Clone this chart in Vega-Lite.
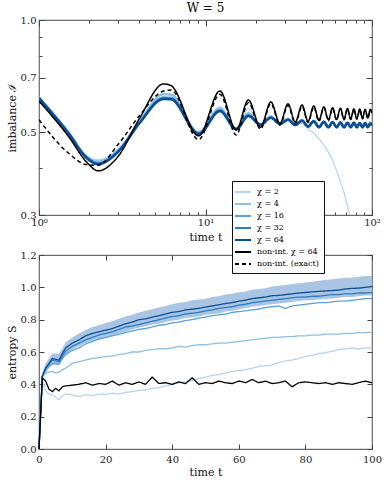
{
"$schema": "https://vega.github.io/schema/vega-lite/v6.json",
"padding": {"left": 5, "top": 1, "right": 5, "bottom": 3},
"spacing": 40,
"bounds": "flush",
"config": {
 "font": "DejaVu Serif",
 "view": {"stroke": "#6b6b6b", "strokeWidth": 1.2},
 "axis": {"domain": false, "grid": false, "labelFont": "DejaVu Serif", "labelFontSize": 10, "labelColor": "#222", "titleFont": "DejaVu Serif", "titleFontSize": 11, "titleFontWeight": "normal", "titleColor": "#111", "tickColor": "#444", "tickWidth": 1, "labelFlush": false, "labelOverlap": false}
},
"resolve": {"scale": {"color": "independent", "strokeDash": "independent", "strokeWidth": "independent"}, "legend": {"color": "independent", "strokeDash": "independent"}},
"vconcat": [
{
 "width": 333, "height": 195,
 "title": {"text": "W = 5", "font": "DejaVu Serif", "fontSize": 12, "fontWeight": "normal", "offset": 0},
 "data": {"values": [
  {"t":1,"c2":0.622,"c4":0.620,"c16":0.619,"c32":0.618,"c64":0.617,"ni":0.606,"ex":0.540},
  {"t":1.5,"c2":0.503,"c4":0.501,"c16":0.499,"c32":0.498,"c64":0.497,"ni":0.488,"ex":0.440},
  {"t":1.95,"c2":0.432,"c4":0.429,"c16":0.427,"c32":0.426,"c64":0.425,"ni":0.414,"ex":0.409},
  {"t":2.26,"c2":0.422,"c4":0.418,"c16":0.413,"c32":0.412,"c64":0.411,"ni":0.394,"ex":0.408},
  {"t":3.0,"c2":0.452,"c4":0.449,"c16":0.446,"c32":0.445,"c64":0.444,"ni":0.432,"ex":0.465},
  {"t":4.0,"c2":0.535,"c4":0.533,"c16":0.530,"c32":0.529,"c64":0.528,"ni":0.543,"ex":0.553},
  {"t":5.6,"c2":0.636,"c4":0.632,"c16":0.620,"c32":0.616,"c64":0.614,"ni":0.674,"ex":0.645},
  {"t":6.2,"c2":0.634,"c4":0.630,"c16":0.619,"c32":0.615,"c64":0.613,"ni":0.667,"ex":0.649},
  {"t":9.1,"c2":0.503,"c4":0.500,"c16":0.497,"c32":0.496,"c64":0.495,"ni":0.489,"ex":0.478},
  {"t":12.2,"c2":0.585,"c4":0.580,"c16":0.574,"c32":0.571,"c64":0.570,"ni":0.645,"ex":0.632},
  {"t":15.3,"c2":0.513,"c4":0.512,"c16":0.511,"c32":0.510,"c64":0.510,"ni":0.507,"ex":0.492},
  {"t":18.1,"c2":0.578,"c4":0.563,"c16":0.556,"c32":0.554,"c64":0.553,"ni":0.610,"ex":0.600},
  {"t":21.4,"c2":0.524,"c4":0.523,"c16":0.523,"c32":0.524,"c64":0.524,"ni":0.516,"ex":0.510},
  {"t":24.7,"c2":0.556,"c4":0.550,"c16":0.547,"c32":0.547,"c64":0.547,"ni":0.603,"ex":0.597},
  {"t":28.0,"c2":0.524,"c4":0.526,"c16":0.527,"c32":0.527,"c64":0.527,"ni":0.528,"ex":0.522},
  {"t":31.3,"c2":0.546,"c4":0.542,"c16":0.540,"c32":0.540,"c64":0.540,"ni":0.596,"ex":0.590},
  {"t":34.6,"c2":0.524,"c4":0.524,"c16":0.523,"c32":0.523,"c64":0.523,"ni":0.532,"ex":0.527},
  {"t":38.0,"c2":0.528,"c4":0.539,"c16":0.537,"c32":0.537,"c64":0.537,"ni":0.592,"ex":0.587},
  {"t":41.3,"c2":0.510,"c4":0.518,"c16":0.518,"c32":0.518,"c64":0.518,"ni":0.535,"ex":0.531},
  {"t":44.7,"c2":0.497,"c4":0.535,"c16":0.535,"c32":0.535,"c64":0.535,"ni":0.588,"ex":0.584},
  {"t":48.0,"c2":0.480,"c4":0.516,"c16":0.516,"c32":0.516,"c64":0.516,"ni":0.538,"ex":0.535},
  {"t":51.4,"c2":0.462,"c4":0.533,"c16":0.533,"c32":0.533,"c64":0.533,"ni":0.585,"ex":0.582},
  {"t":54.7,"c2":0.442,"c4":0.516,"c16":0.516,"c32":0.516,"c64":0.516,"ni":0.540,"ex":0.537},
  {"t":58.0,"c2":0.420,"c4":0.532,"c16":0.532,"c32":0.532,"c64":0.532,"ni":0.582,"ex":0.579},
  {"t":61.3,"c2":0.394,"c4":0.516,"c16":0.516,"c32":0.516,"c64":0.516,"ni":0.541,"ex":0.539},
  {"t":64.6,"c2":0.368,"c4":0.531,"c16":0.531,"c32":0.531,"c64":0.531,"ni":0.580,"ex":0.578},
  {"t":67.9,"c2":0.345,"c4":0.516,"c16":0.516,"c32":0.516,"c64":0.516,"ni":0.542,"ex":0.540},
  {"t":71.2,"c2":0.317,"c4":0.530,"c16":0.530,"c32":0.530,"c64":0.530,"ni":0.579,"ex":0.577},
  {"t":74.5,"c2":0.293,"c4":0.516,"c16":0.516,"c32":0.516,"c64":0.516,"ni":0.543,"ex":0.541},
  {"t":77.8,"c2":0.270,"c4":0.530,"c16":0.530,"c32":0.530,"c64":0.530,"ni":0.578,"ex":0.576},
  {"t":81.1,"c2":0.250,"c4":0.516,"c16":0.516,"c32":0.516,"c64":0.516,"ni":0.544,"ex":0.542},
  {"t":84.4,"c2":0.230,"c4":0.529,"c16":0.529,"c32":0.529,"c64":0.529,"ni":0.577,"ex":0.575},
  {"t":87.7,"c2":0.215,"c4":0.516,"c16":0.516,"c32":0.516,"c64":0.516,"ni":0.545,"ex":0.543},
  {"t":91.0,"c2":0.200,"c4":0.529,"c16":0.529,"c32":0.529,"c64":0.529,"ni":0.576,"ex":0.574},
  {"t":94.3,"c2":0.190,"c4":0.516,"c16":0.516,"c32":0.516,"c64":0.516,"ni":0.546,"ex":0.544},
  {"t":97.6,"c2":0.180,"c4":0.528,"c16":0.528,"c32":0.528,"c64":0.528,"ni":0.576,"ex":0.574},
  {"t":100,"c2":0.175,"c4":0.522,"c16":0.522,"c32":0.522,"c64":0.522,"ni":0.562,"ex":0.560}
 ]},
 "transform": [{"fold": ["c2","c4","c16","c32","c64","ni","ex"], "as": ["series","v"]}],
 "layer": [
  {"mark": {"type": "line", "interpolate": "monotone", "clip": true},
   "encoding": {
    "x": {"field": "t", "type": "quantitative", "scale": {"type": "log", "domain": [1, 100], "nice": false},
          "axis": {"orient": "bottom", "title": "time t", "values": [1,2,3,4,5,6,7,8,9,10,20,30,40,50,60,70,80,90,100],
                   "labelExpr": "datum.value == 1 ? '10⁰' : datum.value == 10 ? '10¹' : datum.value == 100 ? '10²' : ''",
                   "tickSize": {"condition": {"test": "datum.value == 1 || datum.value == 10 || datum.value == 100", "value": -6}, "value": -3},
                   "labelPadding": 8, "titlePadding": 1}},
    "y": {"field": "v", "type": "quantitative", "scale": {"type": "log", "domain": [0.3, 1.0], "nice": false},
          "axis": {"orient": "left", "title": "imbalance ℐ", "values": [0.3,0.4,0.5,0.6,0.7,0.8,0.9,1.0], "format": ".1f",
                   "labelExpr": "(datum.value == 0.3 || datum.value == 0.5 || datum.value == 0.7 || datum.value == 1) ? datum.label : ''",
                   "tickSize": {"condition": {"test": "datum.value == 0.3 || datum.value == 0.5 || datum.value == 0.7 || datum.value == 1", "value": -6}, "value": -3},
                   "labelPadding": 9, "titlePadding": 3}},
    "color": {"field": "series", "type": "nominal", "legend": null,
              "scale": {"domain": ["c2","c4","c16","c32","c64","ni","ex"], "range": ["#b5d4ee","#8cc0e6","#5aa2dc","#2b7bc4","#0c4f96","#000000","#000000"]}},
    "strokeDash": {"field": "series", "type": "nominal", "legend": null,
              "scale": {"domain": ["c2","c4","c16","c32","c64","ni","ex"], "range": [[1,0],[1,0],[1,0],[1,0],[1,0],[1,0],[4,3]]}},
    "strokeWidth": {"field": "series", "type": "nominal", "legend": null,
              "scale": {"type": "ordinal", "domain": ["c2","c4","c16","c32","c64","ni","ex"], "range": [1.2,2.2,2.2,2.2,2.6,1.5,1.5]}}
   }},
  {"mark": {"type": "point", "opacity": 0},
   "encoding": {
    "x": {"field": "t", "type": "quantitative", "axis": {"orient": "top", "title": null, "labels": false, "values": [1,2,3,4,5,6,7,8,9,10,20,30,40,50,60,70,80,90,100],
          "tickSize": {"condition": {"test": "datum.value == 1 || datum.value == 10 || datum.value == 100", "value": -6}, "value": -3}}},
    "y": {"field": "v", "type": "quantitative", "axis": {"orient": "right", "title": null, "labels": false, "values": [0.3,0.4,0.5,0.6,0.7,0.8,0.9,1.0],
          "tickSize": {"condition": {"test": "datum.value == 0.3 || datum.value == 0.5 || datum.value == 0.7 || datum.value == 1", "value": -6}, "value": -3}}}
   }}
 ],
 "resolve": {"axis": {"x": "independent", "y": "independent"}}
},
{
 "width": 333, "height": 194,
 "data": {"values": [
  {"t":0,"c2":0,"c4":0,"c16":0,"c32":0,"c64":0,"ni":0,"lo":0,"hi":0},
  {"t":1,"c2":0.42,"c4":0.45,"c16":0.45,"c32":0.45,"c64":0.45,"ni":0.44,"lo":0.43,"hi":0.47},
  {"t":2,"c2":0.36,"c4":0.47,"c16":0.49,"c32":0.50,"c64":0.50,"ni":0.42,"lo":0.47,"hi":0.53},
  {"t":3,"c2":0.34,"c4":0.475,"c16":0.51,"c32":0.525,"c64":0.53,"ni":0.37,"lo":0.50,"hi":0.56},
  {"t":4,"c2":0.335,"c4":0.48,"c16":0.53,"c32":0.55,"c64":0.56,"ni":0.355,"lo":0.52,"hi":0.59},
  {"t":5,"c2":0.32,"c4":0.47,"c16":0.53,"c32":0.545,"c64":0.555,"ni":0.375,"lo":0.52,"hi":0.59},
  {"t":6,"c2":0.305,"c4":0.475,"c16":0.525,"c32":0.54,"c64":0.55,"ni":0.36,"lo":0.52,"hi":0.59},
  {"t":7,"c2":0.33,"c4":0.49,"c16":0.56,"c32":0.575,"c64":0.59,"ni":0.385,"lo":0.55,"hi":0.62},
  {"t":8,"c2":0.34,"c4":0.50,"c16":0.585,"c32":0.605,"c64":0.625,"ni":0.39,"lo":0.58,"hi":0.66},
  {"t":10,"c2":0.335,"c4":0.53,"c16":0.61,"c32":0.635,"c64":0.655,"ni":0.395,"lo":0.615,"hi":0.69},
  {"t":12,"c2":0.325,"c4":0.54,"c16":0.625,"c32":0.655,"c64":0.675,"ni":0.40,"lo":0.635,"hi":0.715},
  {"t":14,"c2":0.335,"c4":0.55,"c16":0.65,"c32":0.675,"c64":0.70,"ni":0.41,"lo":0.655,"hi":0.735},
  {"t":16,"c2":0.33,"c4":0.56,"c16":0.665,"c32":0.69,"c64":0.715,"ni":0.395,"lo":0.67,"hi":0.755},
  {"t":18,"c2":0.34,"c4":0.565,"c16":0.68,"c32":0.705,"c64":0.725,"ni":0.405,"lo":0.68,"hi":0.765},
  {"t":20,"c2":0.338,"c4":0.572,"c16":0.69,"c32":0.715,"c64":0.735,"ni":0.40,"lo":0.69,"hi":0.78},
  {"t":22,"c2":0.345,"c4":0.575,"c16":0.70,"c32":0.725,"c64":0.745,"ni":0.42,"lo":0.70,"hi":0.79},
  {"t":24,"c2":0.34,"c4":0.585,"c16":0.71,"c32":0.74,"c64":0.76,"ni":0.395,"lo":0.715,"hi":0.805},
  {"t":26,"c2":0.35,"c4":0.59,"c16":0.72,"c32":0.755,"c64":0.775,"ni":0.41,"lo":0.725,"hi":0.82},
  {"t":28,"c2":0.355,"c4":0.60,"c16":0.73,"c32":0.76,"c64":0.785,"ni":0.40,"lo":0.74,"hi":0.83},
  {"t":30,"c2":0.363,"c4":0.60,"c16":0.74,"c32":0.77,"c64":0.80,"ni":0.415,"lo":0.75,"hi":0.845},
  {"t":32,"c2":0.365,"c4":0.61,"c16":0.745,"c32":0.78,"c64":0.805,"ni":0.40,"lo":0.76,"hi":0.855},
  {"t":34,"c2":0.375,"c4":0.615,"c16":0.755,"c32":0.79,"c64":0.815,"ni":0.445,"lo":0.77,"hi":0.865},
  {"t":36,"c2":0.38,"c4":0.62,"c16":0.765,"c32":0.80,"c64":0.825,"ni":0.405,"lo":0.775,"hi":0.875},
  {"t":38,"c2":0.39,"c4":0.62,"c16":0.77,"c32":0.81,"c64":0.835,"ni":0.41,"lo":0.785,"hi":0.885},
  {"t":40,"c2":0.40,"c4":0.625,"c16":0.78,"c32":0.82,"c64":0.845,"ni":0.40,"lo":0.795,"hi":0.895},
  {"t":42,"c2":0.41,"c4":0.635,"c16":0.785,"c32":0.825,"c64":0.85,"ni":0.415,"lo":0.80,"hi":0.905},
  {"t":44,"c2":0.415,"c4":0.63,"c16":0.795,"c32":0.835,"c64":0.86,"ni":0.405,"lo":0.81,"hi":0.91},
  {"t":46,"c2":0.425,"c4":0.64,"c16":0.80,"c32":0.84,"c64":0.865,"ni":0.44,"lo":0.815,"hi":0.92},
  {"t":48,"c2":0.435,"c4":0.645,"c16":0.81,"c32":0.845,"c64":0.87,"ni":0.40,"lo":0.82,"hi":0.925},
  {"t":50,"c2":0.445,"c4":0.645,"c16":0.815,"c32":0.855,"c64":0.878,"ni":0.41,"lo":0.83,"hi":0.93},
  {"t":52,"c2":0.455,"c4":0.65,"c16":0.825,"c32":0.86,"c64":0.885,"ni":0.405,"lo":0.835,"hi":0.94},
  {"t":54,"c2":0.46,"c4":0.655,"c16":0.83,"c32":0.87,"c64":0.892,"ni":0.42,"lo":0.84,"hi":0.945},
  {"t":56,"c2":0.47,"c4":0.655,"c16":0.835,"c32":0.875,"c64":0.90,"ni":0.41,"lo":0.85,"hi":0.955},
  {"t":58,"c2":0.48,"c4":0.66,"c16":0.845,"c32":0.88,"c64":0.905,"ni":0.405,"lo":0.855,"hi":0.96},
  {"t":60,"c2":0.486,"c4":0.665,"c16":0.85,"c32":0.89,"c64":0.915,"ni":0.42,"lo":0.865,"hi":0.97},
  {"t":62,"c2":0.49,"c4":0.67,"c16":0.855,"c32":0.895,"c64":0.92,"ni":0.41,"lo":0.87,"hi":0.975},
  {"t":64,"c2":0.50,"c4":0.675,"c16":0.86,"c32":0.905,"c64":0.93,"ni":0.43,"lo":0.88,"hi":0.985},
  {"t":66,"c2":0.51,"c4":0.68,"c16":0.865,"c32":0.91,"c64":0.935,"ni":0.41,"lo":0.885,"hi":0.99},
  {"t":68,"c2":0.515,"c4":0.685,"c16":0.875,"c32":0.915,"c64":0.94,"ni":0.42,"lo":0.89,"hi":0.995},
  {"t":70,"c2":0.52,"c4":0.69,"c16":0.88,"c32":0.92,"c64":0.948,"ni":0.405,"lo":0.895,"hi":1.005},
  {"t":72,"c2":0.535,"c4":0.69,"c16":0.885,"c32":0.925,"c64":0.95,"ni":0.41,"lo":0.90,"hi":1.01},
  {"t":74,"c2":0.545,"c4":0.695,"c16":0.87,"c32":0.93,"c64":0.955,"ni":0.42,"lo":0.905,"hi":1.015},
  {"t":76,"c2":0.55,"c4":0.695,"c16":0.885,"c32":0.935,"c64":0.96,"ni":0.385,"lo":0.91,"hi":1.02},
  {"t":78,"c2":0.56,"c4":0.70,"c16":0.89,"c32":0.94,"c64":0.965,"ni":0.41,"lo":0.915,"hi":1.025},
  {"t":80,"c2":0.572,"c4":0.70,"c16":0.895,"c32":0.94,"c64":0.968,"ni":0.415,"lo":0.92,"hi":1.03},
  {"t":82,"c2":0.58,"c4":0.705,"c16":0.90,"c32":0.945,"c64":0.972,"ni":0.41,"lo":0.92,"hi":1.035},
  {"t":84,"c2":0.59,"c4":0.705,"c16":0.905,"c32":0.945,"c64":0.975,"ni":0.405,"lo":0.925,"hi":1.04},
  {"t":86,"c2":0.595,"c4":0.71,"c16":0.905,"c32":0.95,"c64":0.978,"ni":0.41,"lo":0.93,"hi":1.045},
  {"t":88,"c2":0.605,"c4":0.71,"c16":0.91,"c32":0.955,"c64":0.98,"ni":0.40,"lo":0.93,"hi":1.05},
  {"t":90,"c2":0.615,"c4":0.71,"c16":0.915,"c32":0.955,"c64":0.983,"ni":0.41,"lo":0.935,"hi":1.055},
  {"t":92,"c2":0.62,"c4":0.715,"c16":0.915,"c32":0.96,"c64":0.99,"ni":0.405,"lo":0.94,"hi":1.06},
  {"t":94,"c2":0.625,"c4":0.715,"c16":0.92,"c32":0.96,"c64":0.993,"ni":0.40,"lo":0.94,"hi":1.06},
  {"t":96,"c2":0.618,"c4":0.72,"c16":0.925,"c32":0.965,"c64":0.995,"ni":0.41,"lo":0.945,"hi":1.065},
  {"t":98,"c2":0.625,"c4":0.72,"c16":0.93,"c32":0.965,"c64":1.00,"ni":0.42,"lo":0.95,"hi":1.07},
  {"t":100,"c2":0.626,"c4":0.722,"c16":0.93,"c32":0.968,"c64":1.005,"ni":0.41,"lo":0.95,"hi":1.07}
 ]},
 "layer": [
  {"mark": {"type": "area", "color": "#a9c5e3", "opacity": 1},
   "encoding": {
    "x": {"field": "t", "type": "quantitative", "scale": {"domain": [0, 100], "nice": false}, "axis": null},
    "y": {"field": "lo", "type": "quantitative", "scale": {"domain": [0, 1.2], "nice": false}, "axis": null},
    "y2": {"field": "hi"}
   }},
  {"transform": [{"fold": ["c2","c4","c16","c32","c64","ni"], "as": ["series","v"]}],
   "mark": {"type": "line", "strokeWidth": 1.3},
   "encoding": {
    "x": {"field": "t", "type": "quantitative", "axis": {"orient": "bottom", "title": "time t", "values": [0,20,40,60,80,100], "tickSize": -5, "labelPadding": 10, "titlePadding": 2}},
    "y": {"field": "v", "type": "quantitative", "axis": {"orient": "left", "title": "entropy S", "values": [0,0.2,0.4,0.6,0.8,1.0,1.2], "format": ".1f", "tickSize": -5, "labelPadding": 8, "titlePadding": 3}},
    "color": {"field": "series", "type": "nominal",
              "scale": {"domain": ["c2","c4","c16","c32","c64","ni","ex"], "range": ["#b5d4ee","#8cc0e6","#5aa2dc","#2b7bc4","#0c4f96","#000000","#000000"]},
              "legend": {"orient": "none", "legendX": 193, "legendY": -74, "title": null, "fillColor": "white", "strokeColor": "#111", "padding": 5,
                         "symbolType": "M-1.6,0H1.6", "symbolSize": 100, "symbolStrokeWidth": 2, "labelFont": "DejaVu Serif", "labelFontSize": 8, "labelOffset": 8, "rowPadding": 2, "cornerRadius": 0,
                         "labelExpr": "datum.value == 'c2' ? 'χ = 2' : datum.value == 'c4' ? 'χ = 4' : datum.value == 'c16' ? 'χ = 16' : datum.value == 'c32' ? 'χ = 32' : datum.value == 'c64' ? 'χ = 64' : datum.value == 'ni' ? 'non-int. χ = 64' : 'non-int. (exact)'"}},
    "strokeDash": {"field": "series", "type": "nominal",
              "scale": {"domain": ["c2","c4","c16","c32","c64","ni","ex"], "range": [[1,0],[1,0],[1,0],[1,0],[1,0],[1,0],[4,3]]}}
   }},
  {"mark": {"type": "point", "opacity": 0},
   "encoding": {
    "x": {"field": "t", "type": "quantitative", "axis": {"orient": "top", "title": null, "labels": false, "values": [0,20,40,60,80,100], "tickSize": -5}},
    "y": {"field": "lo", "type": "quantitative", "axis": {"orient": "right", "title": null, "labels": false, "values": [0,0.2,0.4,0.6,0.8,1.0,1.2], "tickSize": -5}}
   }}
 ],
 "resolve": {"axis": {"x": "independent", "y": "independent"}}
}
]
}
